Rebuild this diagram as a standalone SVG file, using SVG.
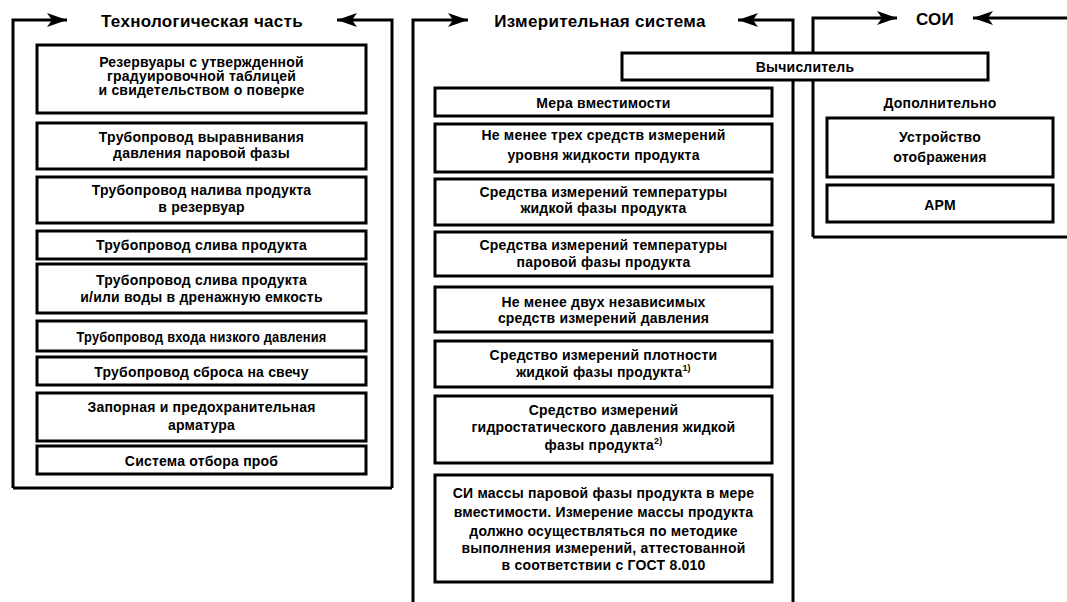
<svg xmlns="http://www.w3.org/2000/svg" width="1067" height="602" viewBox="0 0 1067 602">
<style>
.bx{fill:#fff;stroke:#000;stroke-width:3}
.fr{fill:none;stroke:#000;stroke-width:3}
.t{font-family:"Liberation Sans",Arial,sans-serif;font-weight:bold;font-size:14px;letter-spacing:0.2px;fill:#000;text-anchor:middle}
.h{font-family:"Liberation Sans",Arial,sans-serif;font-weight:bold;font-size:17px;letter-spacing:0.3px;fill:#000;text-anchor:middle}
.sup{font-size:9px}
</style>
<defs>
<marker id="ah" markerUnits="userSpaceOnUse" markerWidth="22" markerHeight="16" refX="20" refY="8" orient="auto">
<path d="M0,1 L20,8 L0,15 L5,8 z" fill="#000"/>
</marker>
</defs>
<rect width="1067" height="602" fill="#fff"/>
<g id="connectors">
<path class="fr" d="M13,488 V20 H67" marker-end="url(#ah)"/>
<path class="fr" d="M392,488 V20 H337" marker-end="url(#ah)"/>
<path class="fr" d="M13,488 H392"/>
<path class="fr" d="M413,602 V20 H468" marker-end="url(#ah)"/>
<path class="fr" d="M793,602 V20 H738" marker-end="url(#ah)"/>
<path class="fr" d="M813,237 V18 H897" marker-end="url(#ah)"/>
<path class="fr" d="M1067,18 H973" marker-end="url(#ah)"/>
<path class="fr" d="M813,237 H1067"/>
</g>
<g id="h-tech"><text class="h" x="202" y="27">Технологическая часть</text></g>
<g id="h-meas"><text class="h" x="600" y="27">Измерительная система</text></g>
<g id="h-soi"><text class="h" x="935" y="25">СОИ</text></g>
<g id="l1"><rect class="bx" x="37" y="45" width="329" height="68"/>
<text class="t" x="201.5" y="67">Резервуары с утвержденной</text>
<text class="t" x="201.5" y="81">градуировочной таблицей</text>
<text class="t" x="201.5" y="95">и свидетельством о поверке</text></g>
<g id="l2"><rect class="bx" x="37" y="123" width="329" height="46"/>
<text class="t" x="201.5" y="142">Трубопровод выравнивания</text>
<text class="t" x="201.5" y="158">давления паровой фазы</text></g>
<g id="l3"><rect class="bx" x="37" y="177" width="329" height="46"/>
<text class="t" x="201.5" y="195">Трубопровод налива продукта</text>
<text class="t" x="201.5" y="212">в резервуар</text></g>
<g id="l4"><rect class="bx" x="37" y="231" width="329" height="28"/>
<text class="t" x="201.5" y="250">Трубопровод слива продукта</text></g>
<g id="l5"><rect class="bx" x="37" y="264" width="329" height="49"/>
<text class="t" x="201.5" y="285">Трубопровод слива продукта</text>
<text class="t" x="201.5" y="302">и/или воды в дренажную емкость</text></g>
<g id="l6"><rect class="bx" x="37" y="321" width="329" height="30"/>
<text class="t" x="201.5" y="341.5" textLength="250" lengthAdjust="spacingAndGlyphs">Трубопровод входа низкого давления</text></g>
<g id="l7"><rect class="bx" x="37" y="357" width="329" height="28"/>
<text class="t" x="201.5" y="376.5">Трубопровод сброса на свечу</text></g>
<g id="l8"><rect class="bx" x="37" y="393" width="329" height="48"/>
<text class="t" x="201.5" y="412">Запорная и предохранительная</text>
<text class="t" x="201.5" y="430">арматура</text></g>
<g id="l9"><rect class="bx" x="37" y="446" width="329" height="28"/>
<text class="t" x="201.5" y="466">Система отбора проб</text></g>
<g id="calc"><rect class="bx" x="622" y="53" width="366" height="27"/>
<text class="t" x="805" y="71.5">Вычислитель</text></g>
<g id="m1"><rect class="bx" x="435" y="88" width="337" height="28"/>
<text class="t" x="603.5" y="107.5">Мера вместимости</text></g>
<g id="m2"><rect class="bx" x="435" y="124" width="337" height="48"/>
<text class="t" x="603.5" y="140">Не менее трех средств измерений</text>
<text class="t" x="603.5" y="159.5">уровня жидкости продукта</text></g>
<g id="m3"><rect class="bx" x="435" y="179" width="337" height="46"/>
<text class="t" x="603.5" y="196.5">Средства измерений температуры</text>
<text class="t" x="603.5" y="213">жидкой фазы продукта</text></g>
<g id="m4"><rect class="bx" x="435" y="232" width="337" height="44"/>
<text class="t" x="603.5" y="249.5">Средства измерений температуры</text>
<text class="t" x="603.5" y="266.5">паровой фазы продукта</text></g>
<g id="m5"><rect class="bx" x="435" y="287" width="337" height="45"/>
<text class="t" x="603.5" y="306.5">Не менее двух независимых</text>
<text class="t" x="603.5" y="323">средств измерений давления</text></g>
<g id="m6"><rect class="bx" x="435" y="341" width="337" height="46"/>
<text class="t" x="603.5" y="359.5">Средство измерений плотности</text>
<text class="t" x="603.5" y="376.5">жидкой фазы продукта<tspan class="sup" dy="-6">1)</tspan></text></g>
<g id="m7"><rect class="bx" x="435" y="396" width="337" height="67"/>
<text class="t" x="603.5" y="414.5">Средство измерений</text>
<text class="t" x="603.5" y="431.5">гидростатического давления жидкой</text>
<text class="t" x="603.5" y="449.5">фазы продукта<tspan class="sup" dy="-6">2)</tspan></text></g>
<g id="m8"><rect class="bx" x="435" y="475" width="337" height="107"/>
<text class="t" x="603.5" y="498">СИ массы паровой фазы продукта в мере</text>
<text class="t" x="603.5" y="516.5">вместимости. Измерение массы продукта</text>
<text class="t" x="603.5" y="535.5">должно осуществляться по методике</text>
<text class="t" x="603.5" y="552.5">выполнения измерений, аттестованной</text>
<text class="t" x="603.5" y="569.5">в соответствии с ГОСТ 8.010</text></g>
<g id="extra"><text class="t" x="940" y="107.5">Дополнительно</text></g>
<g id="r1"><rect class="bx" x="827" y="118" width="226" height="59"/>
<text class="t" x="940" y="141.5">Устройство</text>
<text class="t" x="940" y="161.5">отображения</text></g>
<g id="r2"><rect class="bx" x="827" y="185" width="226" height="37"/>
<text class="t" x="940" y="209.5">АРМ</text></g>
</svg>
